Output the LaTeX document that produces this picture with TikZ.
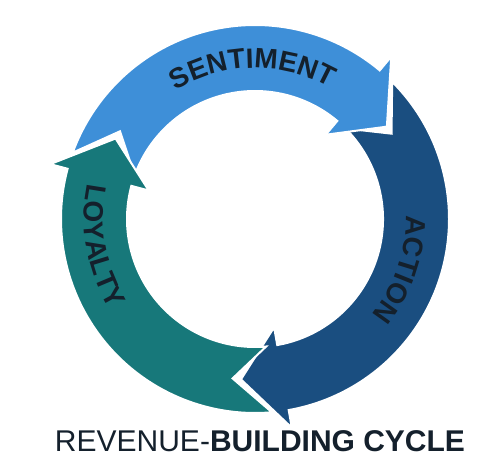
\documentclass[tikz,border=0pt]{standalone}
\usepackage{fontspec}
\setmainfont{Liberation Sans}
\usetikzlibrary{decorations.text}

\definecolor{sentblue}{HTML}{3E8FD8}
\definecolor{actblue}{HTML}{1A4E80}
\definecolor{loyteal}{HTML}{17787A}
\definecolor{labelink}{HTML}{14202C}

% one arrow band of the cycle: start angle, tip angle, colour
\newcommand{\cyclearrow}[3]{%
  \fill[#3, draw=white, line width=2pt, line join=miter]
    (#1+13:194) arc[start angle=#1+13, end angle=#2+15, radius=194]
    -- (#2+15:212) -- (#2:161) -- (#2+15:110) -- (#2+15:128)
    arc[start angle=#2+15, end angle=#1+13, radius=128] -- (#1:161) -- cycle;}

\begin{document}
\begin{tikzpicture}[x=1pt, y=1pt,
    band label/.style={decorate, decoration={text along path, text align=center,
      text color=labelink, text={|\fontsize{28}{28}\bfseries|#1}}}
  ]
  \useasboundingbox (0,0) rectangle (500,473);

  \begin{scope}[shift={(255,254)}]
    % bands
    \cyclearrow{32}{-95}{actblue}
    \cyclearrow{147}{35}{sentblue}
    \cyclearrow{-98}{-210}{loyteal}

    % labels
    \path[band label=SENTIMENT] (128:151) arc[start angle=128, end angle=54, radius=151];
    \path[band label=ACTION] (15:151) arc[start angle=15, end angle=-53, radius=151];
    \path[band label=LOYALTY] (157:171) arc[start angle=157, end angle=223, radius=171];
  \end{scope}

  \node[text=labelink, font=\fontsize{30}{30}\selectfont] (title) at (260,32)
    {REVENUE-\textbf{BUILDING CYCLE}};
\end{tikzpicture}
\end{document}
